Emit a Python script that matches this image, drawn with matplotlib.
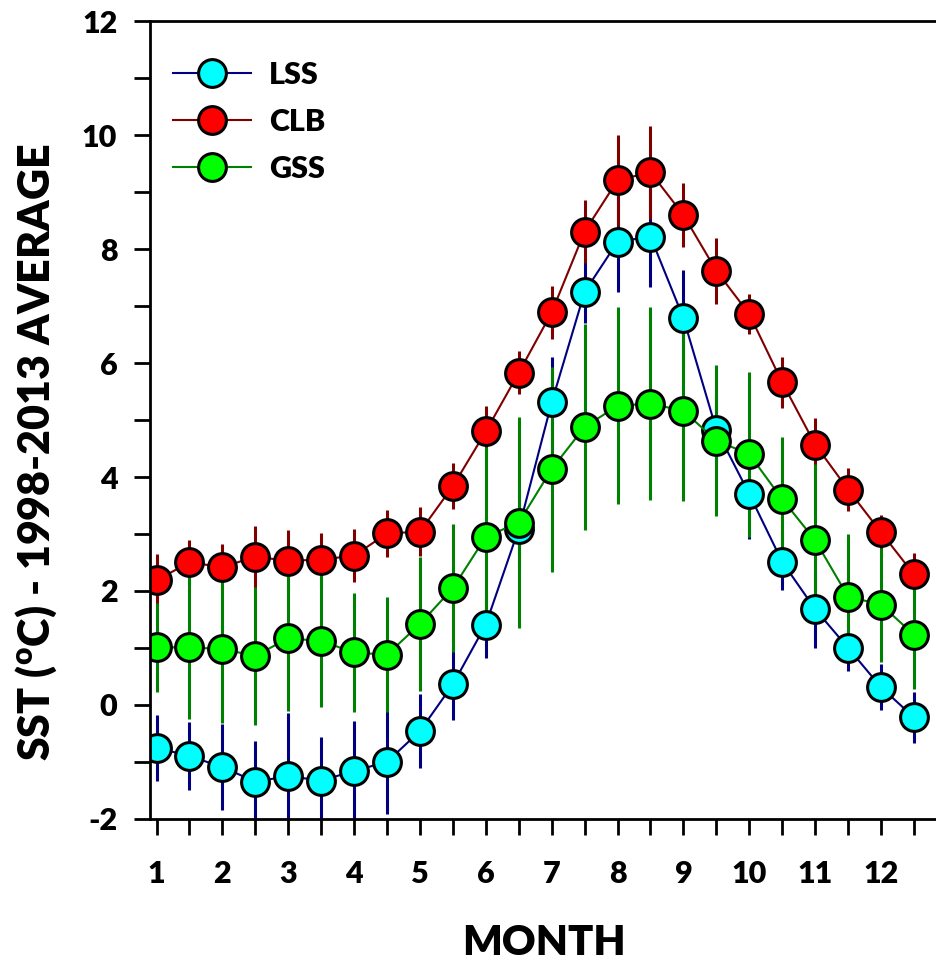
import numpy as np
from matplotlib import pyplot as plt

plt.rcParams['font.family'] = ['Lato', 'DejaVu Sans']
plt.rcParams['font.weight'] = 'heavy'
plt.rcParams['mathtext.fontset'] = 'custom'
plt.rcParams['mathtext.rm'] = 'Lato:heavy'
plt.rcParams['mathtext.default'] = 'rm'
plt.rcParams['axes.unicode_minus'] = False

# half-month positions
months = [1, 1.5, 2, 2.5, 3, 3.5, 4, 4.5, 5, 5.5, 6, 6.5,
          7, 7.5, 8, 8.5, 9, 9.5, 10, 10.5, 11, 11.5, 12, 12.5]

lss = [-0.75, -0.90, -1.09, -1.35, -1.25, -1.33, -1.16, -1.00, -0.46, 0.36, 1.41, 3.09,
       5.31, 7.25, 8.13, 8.22, 6.79, 4.83, 3.70, 2.51, 1.68, 1.00, 0.31, -0.22]
lss_err = [0.58, 0.60, 0.76, 0.72, 1.10, 0.77, 0.88, 0.92, 0.65, 0.63, 0.58, 0.70,
           0.80, 0.55, 0.89, 0.89, 0.85, 0.60, 0.79, 0.50, 0.68, 0.40, 0.40, 0.45]

clb = [2.19, 2.50, 2.42, 2.60, 2.53, 2.55, 2.62, 3.01, 3.04, 3.84, 4.80, 5.83,
       6.89, 8.31, 9.21, 9.35, 8.60, 7.62, 6.86, 5.66, 4.57, 3.78, 3.03, 2.29]
clb_err = [0.46, 0.40, 0.41, 0.54, 0.54, 0.47, 0.47, 0.41, 0.43, 0.41, 0.45, 0.38,
           0.47, 0.56, 0.80, 0.82, 0.57, 0.58, 0.35, 0.45, 0.47, 0.37, 0.30, 0.38]

gss = [1.01, 1.01, 0.98, 0.86, 1.17, 1.12, 0.92, 0.88, 1.42, 2.05, 2.95, 3.20,
       4.14, 4.88, 5.25, 5.29, 5.16, 4.64, 4.40, 3.61, 2.89, 1.90, 1.76, 1.23]
gss_err = [0.78, 1.25, 1.29, 1.21, 1.28, 1.16, 1.04, 1.01, 1.17, 1.13, 1.57, 1.85,
           1.80, 1.81, 1.73, 1.70, 1.58, 1.32, 1.45, 1.10, 1.34, 1.10, 1.00, 0.95]

series = [
    ("LSS", lss, lss_err, '#000080', '#00ffff'),
    ("CLB", clb, clb_err, '#800000', '#ff0000'),
    ("GSS", gss, gss_err, '#008000', '#00ff00'),
]

fig = plt.figure(figsize=(9.37, 9.69), dpi=100)
ax = fig.add_axes([0.16, 0.155, 0.84, 0.823])

handles = []
for name, y, err, lc, fc in series:
    eb = ax.errorbar(months, y, yerr=err, color=lc, lw=1.5, elinewidth=2.2,
                     capsize=0, marker='o', ms=20, mfc=fc, mec='black', mew=2.2,
                     label=name)
    handles.append(eb.lines[0])

ax.set_xlim(0.9, 12.85)
ax.set_ylim(-2, 12)
ax.set_xticks(months)
ax.set_xticklabels([str(int(m)) if m == int(m) else '' for m in months])
ax.set_yticks(np.arange(-2, 13, 2))
ax.set_yticks(np.arange(-1, 12, 2), minor=True)

ax.spines['right'].set_visible(False)
for s in ['left', 'top', 'bottom']:
    ax.spines[s].set_linewidth(2)

ax.tick_params(axis='both', which='both', direction='out', width=2, length=11.5,
               labelsize=22)
ax.tick_params(axis='x', pad=18)
ax.tick_params(axis='y', pad=12)

ax.set_xlabel('MONTH', fontsize=30, fontweight='heavy', labelpad=26)
ax.set_ylabel('SST ($^{o}$C) - 1998-2013 AVERAGE', fontsize=31, fontweight='heavy')
ax.yaxis.set_label_coords(-0.115, 0.46)

ax.legend(handles=handles, labels=[s[0] for s in series], loc='upper left',
          bbox_to_anchor=(-0.006, 0.985), frameon=False, fontsize=22,
          handlelength=2.55, labelspacing=0.62, handletextpad=0.6)

fig.savefig('out.png', dpi=100)
